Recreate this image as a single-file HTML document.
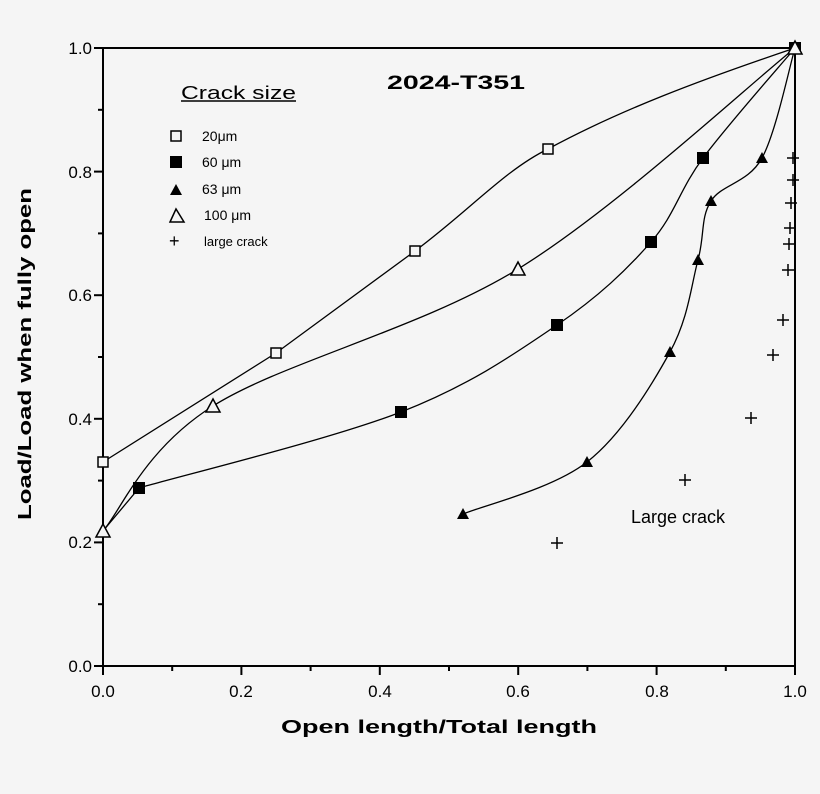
<!DOCTYPE html>
<html><head><meta charset="utf-8"><style>
html,body{margin:0;padding:0;background:#f5f5f5;}
svg{display:block;font-family:"Liberation Sans",sans-serif;}
</style></head><body>
<svg id="s" width="820" height="794" viewBox="0 0 820 794" xmlns="http://www.w3.org/2000/svg">
<rect width="820" height="794" fill="#f5f5f5"/>
<g stroke="#000" stroke-width="2" fill="none">
<path d="M103,48 H795 V666 H103 Z"/>
</g>
<g id="ticks" stroke="#000" stroke-width="2"></g>
<g font-size="17" fill="#000" text-anchor="middle">
<text x="103" y="697">0.0</text><text x="241" y="697">0.2</text><text x="380" y="697">0.4</text>
<text x="518" y="697">0.6</text><text x="657" y="697">0.8</text><text x="795" y="697">1.0</text>
</g>
<g font-size="17" fill="#000" text-anchor="end">
<text x="92" y="672">0.0</text><text x="92" y="548">0.2</text><text x="92" y="425">0.4</text>
<text x="92" y="301">0.6</text><text x="92" y="178">0.8</text><text x="92" y="54">1.0</text>
</g>
<text x="281" y="733" font-size="18" font-weight="bold" textLength="316" lengthAdjust="spacingAndGlyphs">Open length/Total length</text>
<text transform="translate(31,520) rotate(-90)" font-size="18" font-weight="bold" textLength="332" lengthAdjust="spacingAndGlyphs">Load/Load when fully open</text>
<text x="387" y="89" font-size="19" font-weight="bold" textLength="138" lengthAdjust="spacingAndGlyphs">2024-T351</text>
<text x="181" y="99" font-size="18" textLength="115" lengthAdjust="spacingAndGlyphs">Crack size</text>
<line x1="181" y1="101" x2="296" y2="101" stroke="#000" stroke-width="1.5"/>
<g font-size="14">
<rect x="171" y="131" width="10" height="10" fill="none" stroke="#000" stroke-width="1.5"/><text x="202" y="141">20μm</text>
<rect x="170" y="156" width="12" height="12" fill="#000"/><text x="202" y="167">60 μm</text>
<polygon points="170,195 176,184 182,195" fill="#000"/><text x="202" y="194">63 μm</text>
<polygon points="170,222 176,209 184,222" fill="none" stroke="#000" stroke-width="1.5"/><text x="204" y="220">100 μm</text>
<text x="169" y="247" font-size="18">+</text><text x="204" y="246" font-size="13">large crack</text>
</g>
<text x="631" y="523" font-size="18">Large crack</text>
<g id="curves" stroke="#000" stroke-width="1.3" fill="none"></g>
<g id="marks"></g>
</svg>
<script>
var NS="http://www.w3.org/2000/svg";
function el(t,a,p){var e=document.createElementNS(NS,t);for(var k in a)e.setAttribute(k,a[k]);document.getElementById(p).appendChild(e);return e;}
for(var i=0;i<=10;i++){var x=103+i*69.2;el("line",{x1:x,y1:666,x2:x,y2:666+(i%2?5:9)},"ticks");}
for(var i=0;i<=10;i++){var y=666-i*61.8;el("line",{x1:103,y1:y,x2:103-(i%2?5:9),y2:y},"ticks");}
function cr(p){var d="M"+p[0][0]+","+p[0][1];for(var i=0;i<p.length-1;i++){var p0=p[i-1]||p[i],p1=p[i],p2=p[i+1],p3=p[i+2]||p2;
d+=" C"+(p1[0]+(p2[0]-p0[0])/6)+","+(p1[1]+(p2[1]-p0[1])/6)+" "+(p2[0]-(p3[0]-p1[0])/6)+","+(p2[1]-(p3[1]-p1[1])/6)+" "+p2[0]+","+p2[1];}return d;}
var A=[[103,462],[276,353],[415,251],[548,149],[795,48]];
var B=[[103,531],[213,406],[518,269],[795,48]];
var C=[[139,488],[401,412],[557,325],[651,242],[703,158],[795,48]];
var D=[[463,514],[587,462],[670,352],[698,260],[711,201],[762,158],[795,48]];
el("path",{d:"M103,462 L276,353 L415,251 C470,210 505,170 548,149 C620,110 700,80 795,48"},"curves");
[B,D].forEach(function(p){el("path",{d:cr(p)},"curves");});
el("path",{d:"M103,531 L139,488 "+cr(C).replace(/^M[^ ]+/,"L139,488")},"curves");
A.forEach(function(q){el("rect",{x:q[0]-5,y:q[1]-5,width:10,height:10,fill:"#f5f5f5",stroke:"#000","stroke-width":1.5},"marks");});
C.forEach(function(q){el("rect",{x:q[0]-6,y:q[1]-6,width:12,height:12,fill:"#000"},"marks");});
D.forEach(function(q){el("polygon",{points:(q[0]-6)+","+(q[1]+5)+" "+q[0]+","+(q[1]-6)+" "+(q[0]+6)+","+(q[1]+5),fill:"#000"},"marks");});
B.forEach(function(q){el("polygon",{points:(q[0]-7)+","+(q[1]+6)+" "+q[0]+","+(q[1]-7)+" "+(q[0]+7)+","+(q[1]+6),fill:"#f5f5f5",stroke:"#000","stroke-width":1.5},"marks");});
[[557,543],[685,480],[751,418],[773,355],[783,320],[788,270],[789,244],[790,228],[791,203],[793,180],[793,158]].forEach(function(q){
el("path",{d:"M"+(q[0]-6)+","+q[1]+" h12 M"+q[0]+","+(q[1]-6)+" v12",stroke:"#000","stroke-width":1.5},"marks");});
</script>
</body></html>
